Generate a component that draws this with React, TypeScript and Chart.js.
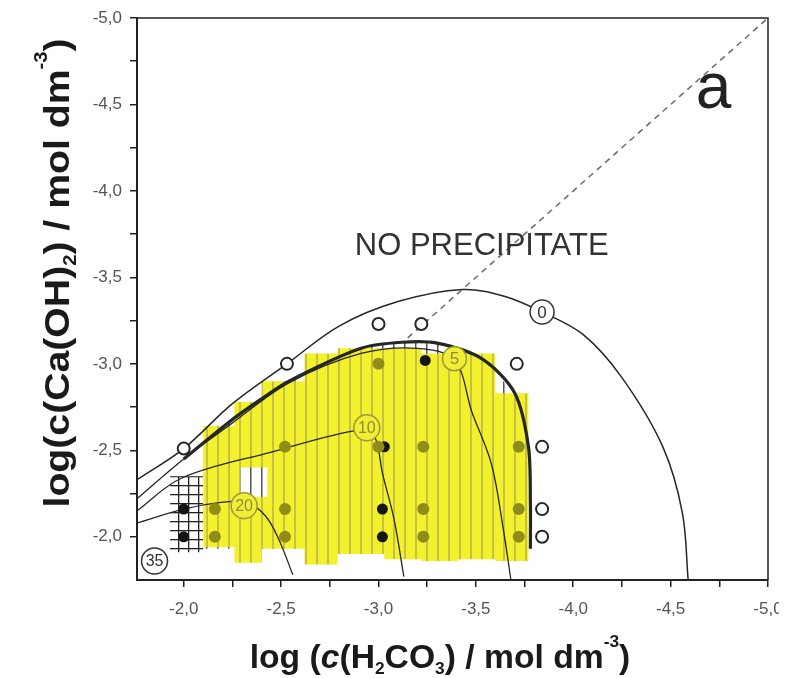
import React, { useEffect, useRef } from 'react';
import { Chart, registerables } from 'chart.js';

Chart.register(...registerables);

const FONT = '"Liberation Sans", Arial, Helvetica, sans-serif';
const W = 779;
const H = 670;
const PLOT_BOTTOM = 572;
const PLOT_RIGHT = 760;

// axis ranges (both axes reversed)
const xMin = -5.0;
const xMax = -1.76;
const yMin = -5.0;
const yMax = -1.75;
const tickStep = 0.25;

// iso-lines
const curve0X = [-1.76, -2.0, -2.25, -2.53, -2.8, -3.1, -3.43, -3.65, -3.84, -4.05, -4.25, -4.46, -4.56, -4.59];
const curve0Y = [-2.33, -2.51, -2.77, -3.0, -3.22, -3.36, -3.43, -3.39, -3.30, -3.17, -2.92, -2.52, -2.14, -1.75];
const curve5X = [-1.76, -2.0, -2.24, -2.54, -2.91, -3.2, -3.39, -3.48, -3.58, -3.64, -3.68];
const curve5Y = [-2.22, -2.45, -2.65, -2.89, -3.06, -3.09, -3.02, -2.72, -2.42, -2.05, -1.75];
const curve10X = [-1.76, -1.99, -2.45, -2.91, -2.98, -3.02, -3.08, -3.13];
const curve10Y = [-2.15, -2.34, -2.49, -2.62, -2.58, -2.37, -2.1, -1.77];
const curve20X = [-1.76, -2.0, -2.2, -2.32, -2.42, -2.49, -2.56];
const curve20Y = [-2.08, -2.16, -2.2, -2.2, -2.12, -1.98, -1.78];

// precipitation boundary (thick)
const boundX = [-2.0, -2.24, -2.39, -2.54, -2.91, -3.12, -3.30, -3.53, -3.70, -3.77, -3.78, -3.78];
const boundY = [-2.45, -2.67, -2.79, -2.90, -3.09, -3.125, -3.12, -3.03, -2.83, -2.52, -2.2, -1.93];
const hatchBottom = -1.93;
const hatchLeft = -2.10;

// cross-hatched region
const crossX = [-1.93, -2.10, -2.10, -1.93];
const crossY = [-2.35, -2.35, -1.91, -1.91];

// yellow highlighted strips
const yellowEdges = [-2.10, -2.26, -2.40, -2.62, -2.79, -3.03, -3.22, -3.41, -3.60, -3.77];
const yellowTop = [-2.64, -2.78, -2.90, -3.06, -3.09, -3.09, -3.06, -3.06, -2.83];
const yellowBottom = [-1.94, -1.85, -1.93, -1.84, -1.90, -1.87, -1.86, -1.87, -1.86];
const gapX = [-2.29, -2.43, -2.43, -2.29];
const gapY = [-2.40, -2.40, -2.23, -2.23];

// y = x reference line
const diagX = [-3.15, -5.0];
const diagY = [-3.15, -5.0];

// experimental points
const openX = [-2.0, -2.53, -3.0, -3.22, -3.71, -3.84, -3.84, -3.84];
const openY = [-2.51, -3.0, -3.23, -3.23, -3.0, -2.52, -2.16, -2.0];
const blackX = [-2.0, -2.0, -3.02, -3.02, -3.24, -3.03];
const blackY = [-2.16, -2.0, -2.16, -2.0, -3.02, -2.52];
const oliveX = [-2.16, -2.16, -2.52, -2.52, -2.52, -3.0, -3.0, -3.23, -3.23, -3.23, -3.72, -3.72, -3.72];
const oliveY = [-2.16, -2.0, -2.52, -2.16, -2.0, -3.0, -2.52, -2.52, -2.16, -2.0, -2.52, -2.16, -2.0];

// curve labels
const labelText = ['0', '5', '10', '20', '35'];
const labelX = [-3.84, -3.39, -2.94, -2.31, -1.85];
const labelY = [-3.30, -3.03, -2.63, -2.18, -1.86];
const highlighted = ['5', '10', '20'];

const noPrecipText = 'NO PRECIPITATE';
const noPrecipPos = [-3.53, -3.68];
const panelText = 'a';
const panelPos = [-4.72, -4.58];

type Seg = { t: string; s?: 'i' | 'sub' | 'sup' };
const xTitle: Seg[] = [
  { t: 'log (' }, { t: 'c', s: 'i' }, { t: '(H' }, { t: '2', s: 'sub' }, { t: 'CO' },
  { t: '3', s: 'sub' }, { t: ') / mol dm' }, { t: '-3', s: 'sup' }, { t: ')' },
];
const yTitle: Seg[] = [
  { t: 'log(c(Ca(OH)' }, { t: '2', s: 'sub' }, { t: ') / mol dm' }, { t: '-3', s: 'sup' }, { t: ')' },
];

const pts = (xs: number[], ys: number[]) => xs.map((x, i) => ({ x, y: ys[i] }));

function yellowPoly() {
  const p: { x: number; y: number }[] = [];
  for (let i = 0; i < yellowTop.length; i++) {
    p.push({ x: yellowEdges[i], y: yellowTop[i] });
    p.push({ x: yellowEdges[i + 1], y: yellowTop[i] });
  }
  for (let i = yellowBottom.length - 1; i >= 0; i--) {
    p.push({ x: yellowEdges[i + 1], y: yellowBottom[i] });
    p.push({ x: yellowEdges[i], y: yellowBottom[i] });
  }
  return p;
}

function hatchPoly() {
  const p = [{ x: hatchLeft, y: -2.55 }];
  boundX.forEach((x, i) => {
    if (x < hatchLeft) p.push({ x, y: boundY[i] });
  });
  p.push({ x: boundX[boundX.length - 1], y: hatchBottom });
  p.push({ x: hatchLeft, y: hatchBottom });
  return p;
}

function drawRich(ctx: CanvasRenderingContext2D, segs: Seg[], cx: number, cy: number, size: number, rot: number, sx: number) {
  ctx.save();
  ctx.translate(cx, cy);
  ctx.rotate(rot);
  ctx.scale(sx, 1);
  const fontFor = (s?: string) =>
    s === 'sub' || s === 'sup' ? `bold ${Math.round(size * 0.5)}px ${FONT}` :
    s === 'i' ? `italic bold ${size}px ${FONT}` : `bold ${size}px ${FONT}`;
  let total = 0;
  const widths = segs.map((sg) => {
    ctx.font = fontFor(sg.s);
    const w = ctx.measureText(sg.t).width;
    total += w;
    return w;
  });
  let x = -total / 2;
  ctx.textBaseline = 'alphabetic';
  ctx.textAlign = 'left';
  ctx.fillStyle = '#1a1a1a';
  segs.forEach((sg, i) => {
    ctx.font = fontFor(sg.s);
    const dy = sg.s === 'sub' ? size * 0.2 : sg.s === 'sup' ? -size * 0.62 : 0;
    ctx.fillText(sg.t, x, size * 0.36 + dy);
    x += widths[i];
  });
  ctx.restore();
}

const decor = {
  id: 'decor',
  afterDatasetsDraw(chart: any) {
    const { ctx, chartArea: a, scales } = chart;
    const sx = scales.x;
    const sy = scales.y;
    ctx.save();
    // curve labels
    labelText.forEach((t, i) => {
      const px = sx.getPixelForValue(labelX[i]);
      const py = sy.getPixelForValue(labelY[i]);
      const hl = highlighted.includes(t);
      const r = t.length > 1 ? 13 : 12;
      ctx.beginPath();
      ctx.arc(px, py, r, 0, Math.PI * 2);
      ctx.fillStyle = hl ? '#f1ee35' : '#ffffff';
      ctx.fill();
      ctx.lineWidth = 1.5;
      ctx.strokeStyle = hl ? '#9c9a3a' : '#333333';
      ctx.stroke();
      ctx.fillStyle = hl ? '#8f8d38' : '#333333';
      ctx.font = `${t.length > 1 ? 16 : 17}px ${FONT}`;
      ctx.textAlign = 'center';
      ctx.textBaseline = 'middle';
      ctx.fillText(t, px, py + 1);
    });
    // region text
    ctx.fillStyle = '#333333';
    ctx.font = `31px ${FONT}`;
    ctx.textAlign = 'center';
    ctx.textBaseline = 'middle';
    ctx.fillText(noPrecipText, sx.getPixelForValue(noPrecipPos[0]), sy.getPixelForValue(noPrecipPos[1]));
    ctx.font = `64px ${FONT}`;
    ctx.fillStyle = '#222222';
    ctx.fillText(panelText, sx.getPixelForValue(panelPos[0]), sy.getPixelForValue(panelPos[1]));
    // frame (top & right)
    ctx.strokeStyle = '#222222';
    ctx.lineWidth = 1.5;
    ctx.beginPath();
    ctx.moveTo(a.left, a.top);
    ctx.lineTo(a.right, a.top);
    ctx.lineTo(a.right, a.bottom);
    ctx.stroke();
    ctx.restore();
  },
  afterDraw(chart: any) {
    const { ctx } = chart;
    drawRich(ctx, xTitle, 432, 648, 33, 0, 1.02);
    drawRich(ctx, yTitle, 48, 265, 35, -Math.PI / 2, 1.12);
  },
};

const tickLabel = (v: number) =>
  Math.abs(v * 2 - Math.round(v * 2)) < 1e-6 ? v.toFixed(1).replace('.', ',') : '';

export default function App() {
  const ref = useRef<HTMLCanvasElement | null>(null);
  useEffect(() => {
    document.documentElement.style.overflow = 'hidden';
    document.body.style.overflow = 'hidden';
    const canvas = ref.current!;
    const mainCtx = canvas.getContext('2d')!;
    const mk = (w: number, h: number, draw: (g: CanvasRenderingContext2D) => void) => {
      const c = document.createElement('canvas');
      c.width = w;
      c.height = h;
      const g = c.getContext('2d')!;
      draw(g);
      return mainCtx.createPattern(c, 'repeat');
    };
    const yellowPat = mk(11, 11, (g) => {
      g.fillStyle = '#f3f02c';
      g.fillRect(0, 0, 11, 11);
      g.fillStyle = '#c4c144';
      g.fillRect(0, 0, 2, 11);
    });
    const hatchPat = mk(11, 11, (g) => {
      g.fillStyle = '#ffffff';
      g.fillRect(0, 0, 11, 11);
      g.fillStyle = '#555555';
      g.fillRect(0, 0, 1.5, 11);
    });
    const crossPat = mk(10, 9, (g) => {
      g.fillStyle = '#ffffff';
      g.fillRect(0, 0, 10, 9);
      g.fillStyle = '#222222';
      g.fillRect(0, 0, 1.3, 9);
      g.fillRect(0, 0, 10, 1.3);
    });

    const area = (data: any[], bg: any, order: number) => ({
      data, showLine: true, fill: 'shape', backgroundColor: bg, borderWidth: 0,
      borderColor: 'rgba(0,0,0,0)', pointRadius: 0, tension: 0, order,
    });
    const line = (data: any[], width: number, order: number, extra: any = {}) => ({
      data, showLine: true, fill: false, borderColor: '#262626', borderWidth: width,
      pointRadius: 0, tension: 0.35, order, ...extra,
    });
    const dots = (data: any[], bg: string, border: string, bw: number, r: number, order: number) => ({
      data, showLine: false, backgroundColor: bg, borderColor: border, borderWidth: bw,
      pointRadius: r, pointHoverRadius: r, order,
    });

    const chart = new Chart(canvas, {
      type: 'scatter',
      data: {
        datasets: [
          area(pts(crossX, crossY), crossPat, 100),
          area(hatchPoly(), hatchPat, 95),
          area(yellowPoly(), yellowPat, 90),
          area(pts(gapX, gapY), hatchPat, 85),
          line(pts(curve0X, curve0Y), 1.5, 50),
          line(pts(curve5X, curve5Y), 1.3, 49),
          line(pts(curve10X, curve10Y), 1.3, 48),
          line(pts(curve20X, curve20Y), 1.3, 47),
          line(pts(boundX, boundY), 3.2, 45, { tension: 0.3 }),
          line(pts(diagX, diagY), 1.5, 40, { borderDash: [6, 5], borderColor: '#6a6a6a', tension: 0 }),
          dots(pts(openX, openY), '#ffffff', '#262626', 2, 6, 12),
          dots(pts(blackX, blackY), '#151515', '#151515', 0, 5.5, 11),
          dots(pts(oliveX, oliveY), '#8f8d17', '#8f8d17', 0, 6, 10),
        ] as any,
      },
      options: {
        responsive: false,
        animation: false,
        devicePixelRatio: 1,
        layout: { padding: { top: 10, right: W - PLOT_RIGHT, left: 0, bottom: 0 } },
        plugins: { legend: { display: false }, tooltip: { enabled: false }, title: { display: false } },
        events: [],
        scales: {
          x: {
            type: 'linear', min: xMin, max: xMax, reverse: true,
            afterBuildTicks: (s: any) => { s.ticks = s.ticks.filter((t: any) => t.value < -1.9); },
            afterFit: (s: any) => { s.height = H - PLOT_BOTTOM; s.paddingLeft = 0; s.paddingRight = 0; },
            ticks: {
              stepSize: tickStep, autoSkip: false, maxRotation: 0, padding: 12, includeBounds: false,
              color: '#555555', font: { family: FONT, size: 17 },
              callback: (v: any) => tickLabel(Number(v)),
            },
            grid: { drawOnChartArea: false, drawTicks: true, tickLength: 7, color: '#222222', lineWidth: 1.5 },
            border: { display: true, color: '#222222', width: 2 },
            title: { display: false },
          },
          y: {
            type: 'linear', min: yMin, max: yMax, reverse: true,
            afterBuildTicks: (s: any) => { s.ticks = s.ticks.filter((t: any) => t.value < -1.9); },
            afterFit: (s: any) => { s.width = 129; s.paddingTop = 0; s.paddingBottom = 0; },
            ticks: {
              stepSize: tickStep, autoSkip: false, padding: 8, includeBounds: false,
              color: '#555555', font: { family: FONT, size: 17 },
              callback: (v: any) => tickLabel(Number(v)),
            },
            grid: { drawOnChartArea: false, drawTicks: true, tickLength: 7, color: '#222222', lineWidth: 1.5 },
            border: { display: true, color: '#222222', width: 2 },
            title: { display: false },
          },
        },
      },
      plugins: [decor],
    });
    return () => chart.destroy();
  }, []);
  return (
    <div style={{ width: W, height: H }}>
      <canvas ref={ref} width={W} height={H} style={{ display: 'block' }} />
    </div>
  );
}
